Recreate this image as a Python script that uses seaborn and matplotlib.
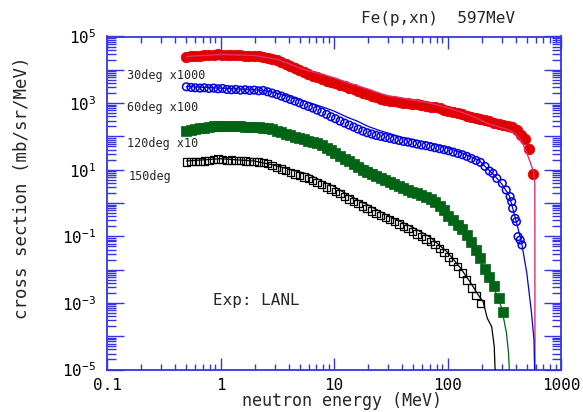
import numpy as np
import pandas as pd
import matplotlib
matplotlib.use("Agg")
import matplotlib.pyplot as plt
import seaborn as sns
from matplotlib.ticker import LogLocator, FuncFormatter, NullFormatter

# ---------------- data (energies in MeV, values as log10 of cross section) -------------
grid = [0.50, 0.55, 0.60, 0.66, 0.72, 0.79, 0.87, 0.95, 1.04, 1.14,
        1.25, 1.37, 1.50, 1.65, 1.80, 1.98, 2.17, 2.38, 2.60, 2.85,
        3.13, 3.43, 3.76, 4.12, 4.52, 4.95, 5.43, 5.95, 6.5, 7.1,
        7.8, 8.6, 9.4, 10.3, 11.3, 12.4, 13.6, 14.9, 16.3, 17.9,
        19.6, 21.5, 23.5, 25.8, 28.3, 31.0, 34.0, 37.3, 40.9, 44.8,
        49.1, 53.8, 59.0, 64.7, 70.9, 77.7, 85.2, 93.4, 102, 112,
        123, 135, 148, 162, 178, 195, 214, 234, 257, 282,
        309, 339, 371, 407]

# 30 deg (x1000) experimental
e30_tail = [446, 482, 524, 572]
log30 = [4.37, 4.40, 4.41, 4.42, 4.43, 4.44, 4.45, 4.46, 4.45, 4.44,
         4.44, 4.43, 4.43, 4.42, 4.42, 4.41, 4.40, 4.38, 4.36, 4.33,
         4.28, 4.23, 4.17, 4.11, 4.05, 3.99, 3.93, 3.87, 3.82, 3.77,
         3.72, 3.67, 3.63, 3.59, 3.55, 3.50, 3.45, 3.41, 3.36, 3.31,
         3.26, 3.21, 3.17, 3.13, 3.10, 3.07, 3.05, 3.03, 3.01, 2.99,
         2.98, 2.96, 2.94, 2.92, 2.89, 2.87, 2.84, 2.80, 2.77, 2.73,
         2.70, 2.66, 2.62, 2.58, 2.55, 2.51, 2.48, 2.45, 2.41, 2.38,
         2.35, 2.31, 2.27, 2.19,
         2.05, 1.91, 1.62, 0.87]

# 60 deg (x100) experimental
e60_tail = [214, 234, 252, 272, 304, 329, 356, 368, 375, 394, 405, 418, 437, 453]
log60 = [3.49, 3.47, 3.46, 3.45, 3.46, 3.44, 3.45, 3.43, 3.44, 3.41,
         3.40, 3.41, 3.39, 3.40, 3.38, 3.39, 3.37, 3.38, 3.34, 3.30,
         3.26, 3.21, 3.16, 3.11, 3.06, 3.01, 2.95, 2.90, 2.85, 2.79,
         2.73, 2.66, 2.59, 2.53, 2.46, 2.40, 2.34, 2.28, 2.22, 2.16,
         2.11, 2.07, 2.03, 2.00, 1.97, 1.94, 1.91, 1.88, 1.85, 1.83,
         1.80, 1.77, 1.74, 1.72, 1.69, 1.66, 1.63, 1.60, 1.57, 1.53,
         1.49, 1.45, 1.40, 1.34, 1.28, 1.22,
         1.10, 0.96, 0.89, 0.74, 0.59, 0.39, 0.19, 0.04, -0.16, -0.46,
         -0.56, -1.01, -1.11, -1.26]

# 120 deg (x10) experimental
log120 = [2.15, 2.18, 2.21, 2.24, 2.26, 2.28, 2.30, 2.31, 2.32, 2.31,
          2.31, 2.30, 2.30, 2.29, 2.29, 2.28, 2.27, 2.26, 2.24, 2.21,
          2.17, 2.12, 2.07, 2.03, 1.99, 1.95, 1.91, 1.87, 1.84, 1.80,
          1.74, 1.66, 1.58, 1.49, 1.40, 1.33, 1.26, 1.18, 1.08, 0.99,
          0.93, 0.87, 0.81, 0.75, 0.69, 0.63, 0.57, 0.51, 0.45, 0.39,
          0.34, 0.29, 0.24, 0.18, 0.12, 0.02, -0.10, -0.22, -0.38, -0.52,
          -0.65, -0.78, -0.96, -1.16, -1.40, -1.66, -1.98, -2.22, -2.50, -2.86,
          -3.26]

# 150 deg experimental
log150 = [1.23, 1.24, 1.24, 1.25, 1.26, 1.27, 1.30, 1.32, 1.30, 1.28,
          1.29, 1.27, 1.27, 1.26, 1.25, 1.24, 1.23, 1.21, 1.18, 1.12,
          1.07, 1.02, 0.97, 0.92, 0.87, 0.83, 0.78, 0.74, 0.68, 0.61,
          0.55, 0.48, 0.42, 0.35, 0.28, 0.20, 0.12, 0.05, -0.02, -0.09,
          -0.16, -0.24, -0.31, -0.38, -0.44, -0.50, -0.56, -0.63, -0.70, -0.77,
          -0.85, -0.93, -1.01, -1.08, -1.16, -1.25, -1.36, -1.48, -1.62, -1.75,
          -1.90, -2.10, -2.31, -2.55, -2.78, -3.01]

# calculations (lines)
calc30_e = [0.5, 1, 2, 3, 4, 5, 6, 8, 10, 13, 16, 20, 25, 30, 40, 50, 70, 100,
            140, 180, 230, 300, 350, 400, 450, 500, 540, 575, 588, 590]
calc30_log = [4.40, 4.46, 4.43, 4.33, 4.19, 4.05, 3.97, 3.86, 3.76, 3.62, 3.52, 3.42,
              3.30, 3.22, 3.15, 3.09, 3.00, 2.86, 2.70, 2.55, 2.38, 2.26, 2.19, 2.06,
              1.86, 1.50, 1.19, 0.92, 0.55, -5.5]
calc60_e = [0.5, 1, 2, 2.6, 3.3, 4, 5, 6, 8, 10, 13, 16, 20, 25, 30, 40, 50, 70, 100,
            140, 190, 220, 250, 300, 350, 400, 450, 500, 550, 578, 590]
calc60_log = [3.50, 3.45, 3.40, 3.36, 3.28, 3.20, 3.10, 3.02, 2.88, 2.76, 2.58, 2.46,
              2.30, 2.18, 2.10, 1.97, 1.90, 1.80, 1.66, 1.48, 1.28, 1.06, 0.88, 0.58,
              0.22, -0.50, -1.20, -2.11, -3.31, -4.11, -5.5]
calc120_e = [0.5, 1, 2, 3, 4, 5, 6, 8, 10, 13, 16, 20, 25, 30, 40, 50, 70, 100,
             140, 200, 250, 300, 331, 345, 356]
calc120_log = [2.16, 2.33, 2.29, 2.20, 2.08, 1.98, 1.92, 1.76, 1.62, 1.42, 1.24, 1.08,
               0.92, 0.78, 0.56, 0.42, 0.18, -0.33, -0.85, -1.80, -2.45, -3.15, -3.91,
               -4.51, -5.5]
calc150_e = [0.5, 1, 2, 3, 4, 5, 6, 8, 10, 13, 16, 20, 25, 30, 40, 50, 70, 100,
             130, 160, 190, 206, 224, 245, 258, 266]
calc150_log = [1.26, 1.33, 1.26, 1.13, 1.02, 0.93, 0.86, 0.64, 0.50, 0.26, 0.10, -0.06,
               -0.24, -0.38, -0.58, -0.74, -1.02, -1.48, -1.95, -2.40, -2.80, -2.96,
               -3.46, -3.71, -4.30, -5.5]

labels = ["30deg x1000", "60deg x100", "120deg x10", "150deg"]

# ---------------- build tables ----------------
exp30 = pd.DataFrame({"E": grid + e30_tail, "xs": np.power(10.0, log30)})
exp60 = pd.DataFrame({"E": grid[:66] + e60_tail, "xs": np.power(10.0, log60)})
exp120 = pd.DataFrame({"E": grid[:len(log120)], "xs": np.power(10.0, log120)})
exp150 = pd.DataFrame({"E": grid[:len(log150)], "xs": np.power(10.0, log150)})
c30 = pd.DataFrame({"E": calc30_e, "xs": np.power(10.0, calc30_log)})
c60 = pd.DataFrame({"E": calc60_e, "xs": np.power(10.0, calc60_log)})
c120 = pd.DataFrame({"E": calc120_e, "xs": np.power(10.0, calc120_log)})
c150 = pd.DataFrame({"E": calc150_e, "xs": np.power(10.0, calc150_log)})

# ---------------- style ----------------
sns.set_style("ticks")
plt.rcParams['font.family'] = ['DejaVu Sans Mono', 'DejaVu Sans']
plt.rcParams['mathtext.fontset'] = 'custom'
plt.rcParams['mathtext.rm'] = 'DejaVu Sans Mono'
plt.rcParams['mathtext.it'] = 'DejaVu Sans Mono'
plt.rcParams['axes.unicode_minus'] = False

AX_BLUE = '#3535e0'
RED = '#e00000'
RED_LINE = '#e0306a'
BLUE = '#0000e0'
GREEN = '#006414'
BLACK = '#000000'

W, H = 583, 412
fig = plt.figure(figsize=(W / 100, H / 100), dpi=100)
x0, x1, y0, y1 = 107, 561, 36.5, 369.5
ax = fig.add_axes([x0 / W, 1 - y1 / H, (x1 - x0) / W, (y1 - y0) / H])
ax.set_xscale('log')
ax.set_yscale('log')

# experimental markers
sns.scatterplot(data=exp30, x="E", y="xs", ax=ax, marker='o', s=58,
                color=RED, edgecolor=RED, linewidth=0.5, zorder=3)
sns.scatterplot(data=exp60, x="E", y="xs", ax=ax, marker='o', s=30,
                facecolor='none', edgecolor=BLUE, linewidth=1.1, zorder=3)
sns.scatterplot(data=exp120, x="E", y="xs", ax=ax, marker='s', s=48,
                color=GREEN, edgecolor=GREEN, linewidth=0.5, zorder=3)
sns.scatterplot(data=exp150, x="E", y="xs", ax=ax, marker='s', s=28,
                facecolor='none', edgecolor=BLACK, linewidth=0.9, zorder=3)

# calculations
sns.lineplot(data=c30, x="E", y="xs", ax=ax, color=RED_LINE, lw=1.0,
             estimator=None, sort=False, zorder=4)
sns.lineplot(data=c60, x="E", y="xs", ax=ax, color=BLUE, lw=0.9,
             estimator=None, sort=False, zorder=4)
sns.lineplot(data=c120, x="E", y="xs", ax=ax, color=GREEN, lw=0.9,
             estimator=None, sort=False, zorder=4)
sns.lineplot(data=c150, x="E", y="xs", ax=ax, color=BLACK, lw=0.9,
             estimator=None, sort=False, zorder=4)

ax.set_xlim(0.1, 1000)
ax.set_ylim(1e-5, 1e5)
ax.set_xlabel("")
ax.set_ylabel("")

# axes frame and ticks
for sp in ax.spines.values():
    sp.set_color(AX_BLUE)
    sp.set_linewidth(1.3)

ax.xaxis.set_major_locator(LogLocator(base=10, numticks=10))
ax.xaxis.set_minor_locator(LogLocator(base=10, subs=np.arange(2, 10), numticks=10))
ax.xaxis.set_major_formatter(FuncFormatter(lambda v, p: f"{v:g}"))
ax.xaxis.set_minor_formatter(NullFormatter())

def yfmt(v, p):
    e = int(round(np.log10(v)))
    if e % 2 == 1 or e % 2 == -1:
        return r"$\mathdefault{10^{%d}}$" % e
    return ""

ax.yaxis.set_major_locator(LogLocator(base=10, numticks=15))
ax.yaxis.set_minor_locator(LogLocator(base=10, subs=np.arange(2, 10), numticks=15))
ax.yaxis.set_major_formatter(FuncFormatter(yfmt))
ax.yaxis.set_minor_formatter(NullFormatter())

ax.tick_params(axis='both', which='both', direction='in', top=True, right=True,
               color=AX_BLUE, width=1.0, labelsize=11.5, labelcolor='black')
ax.tick_params(axis='x', which='major', length=8.5, pad=6)
ax.tick_params(axis='x', which='minor', length=4.3)
ax.tick_params(axis='y', which='major', length=12, pad=8)
ax.tick_params(axis='y', which='minor', length=6.5)

# texts
def ftext(px, py, s, **kw):
    fig.text(px / W, 1 - py / H, s, **kw)

ftext(342, 401, "neutron energy (MeV)", ha='center', va='center', fontsize=12)
ftext(22, 188, "cross section (mb/sr/MeV)", ha='center', va='center',
      rotation=90, fontsize=12.5)
ftext(361, 18, "Fe(p,xn)  597MeV", ha='left', va='center', fontsize=11.5)
ftext(127, 75, labels[0], ha='left', va='center', fontsize=8.5)
ftext(127, 108, labels[1], ha='left', va='center', fontsize=8.5)
ftext(127, 143, labels[2], ha='left', va='center', fontsize=8.5)
ftext(129, 177, labels[3], ha='left', va='center', fontsize=8.5)
ftext(213, 301, "Exp: LANL", ha='left', va='center', fontsize=11.5)

fig.savefig("out.png", dpi=100)
